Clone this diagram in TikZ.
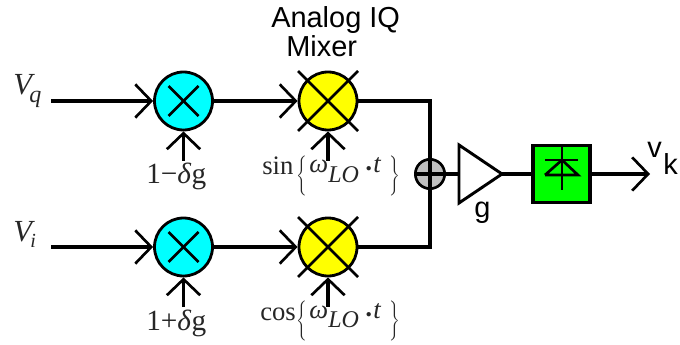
\documentclass[tikz,border=0pt]{standalone}
\usepackage{fontspec}
\setmainfont{Liberation Serif}
\newfontfamily\arial{Liberation Sans}
\usetikzlibrary{arrows.meta}
\definecolor{mixblue}{RGB}{0,255,255}
\definecolor{mixyellow}{RGB}{255,255,0}
\definecolor{detgreen}{RGB}{0,255,0}
\definecolor{sumgray}{RGB}{192,192,192}
\newcommand{\fs}[2]{\fontsize{#1}{#2}\selectfont}
\newcommand{\tallL}{$\left\{\vrule width0pt height 12pt depth 12pt\right.$}
\newcommand{\tallR}{$\left.\vrule width0pt height 12pt depth 12pt\right\}$}
\tikzset{
  x=0.75pt,y=-0.75pt,
  wire/.style={line width=2.4pt},
  barb/.style={wire,-{Straight Barb[length=12pt,width=25pt,line width=2pt]}},
  thinl/.style={line width=2pt},
  mixa/.style={circle,draw,line width=2.1pt,fill=mixblue,minimum size=43.5pt,inner sep=0pt},
  mixb/.style={circle,draw,line width=2.1pt,fill=mixyellow,minimum size=43.5pt,inner sep=0pt},
  sumn/.style={circle,draw,line width=2pt,fill=sumgray,minimum size=22pt,inner sep=0pt},
  lab/.style={inner sep=0pt,text=black!85,anchor=base west},
  sans/.style={inner sep=0pt,font=\arial\fs{21.7}{24},anchor=base west},
  serifl/.style={lab,font=\fs{20}{24}},
}
\begin{document}
\begin{tikzpicture}
\useasboundingbox (0,0) rectangle (680,345);
% nodes
\node[mixa] (a1) at (183.5,101) {};
\node[mixb] (b1) at (328,101) {};
\node[mixa] (a2) at (183.5,247) {};
\node[mixb] (b2) at (328,247) {};
\node[sumn] (s) at (430,174) {};
\coordinate (j1) at (430,101);
\coordinate (j2) at (430,247);
\coordinate (q) at (51,101);
\coordinate (i) at (51,247);
\coordinate (g1) at (183.5,161);
\coordinate (g2) at (183.5,307);
\coordinate (lo1) at (328,161);
\coordinate (lo2) at (328,307);
\coordinate (out) at (650,174);
\coordinate (ampin) at (459,174);
\coordinate (ampout) at (502,174);
\node[draw,line width=2.6pt,fill=detgreen,minimum size=43pt,inner sep=0pt] (d) at (561.5,174) {};
% crosses
\foreach \n in {a1,a2} {
  \draw[thinl] (\n.center) ++(-15,-15) -- ++(30,30);
  \draw[thinl] (\n.center) ++(-15,15) -- ++(30,-30);
}
\foreach \n in {b1,b2} {
  \draw[thinl] (\n.center) ++(-30,-30) -- ++(60,60);
  \draw[thinl] (\n.center) ++(-30,30) -- ++(60,-60);
}
% connectors
\draw[barb] (q) -- (a1.west);
\draw[barb] (i) -- (a2.west);
\draw[barb] (a1.east) -- (b1.west);
\draw[barb] (a2.east) -- (b2.west);
\draw[barb] (g1) -- (a1.south);
\draw[barb] (g2) -- (a2.south);
\draw[barb] (lo1) -- (b1.south);
\draw[barb] (lo2) -- (b2.south);
\draw[wire,line join=miter] (b1.east) -- (j1) -- (s.center);
\draw[wire,line join=miter] (b2.east) -- (j2) -- (s.center);
\draw[wire] (s.west) -- (ampin);
\draw[wire] (ampout) -- (d.west);
\draw[barb] (d.east) -- (out);
\draw[line width=2.2pt,line join=miter] (ampin |- 0,145) -- (ampout) -- (ampin |- 0,203) -- cycle;
% diode
\draw[line width=2pt] (562,147) -- (562,190);
\draw[line width=2pt] (545,160) -- (578,160);
\draw[line width=2pt] (545,175) -- (578,175) -- (562,160) -- (545,175);
% labels
\node[sans] at (271,28) {Analog IQ};
\node[sans] at (286,57) {Mixer};
\node[sans] at (474,217) {g};
\node[sans] at (647,158) {v};
\node[sans] at (663,175) {k};
\node[serifl,font=\fs{23}{26}\itshape] at (13,95) {V};
\node[serifl,font=\fs{18}{22}\itshape] at (29,103) {q};
\node[serifl,font=\fs{23}{26}\itshape] at (13,241) {V};
\node[serifl,font=\fs{15}{18}\itshape] at (30,247) {i};
\node[serifl,font=\fs{22}{24}] at (146,184) {1−\textit{δ}g};
\node[serifl,font=\fs{22}{24}] at (146,330) {1+\textit{δ}g};
\node[serifl] at (262,175) {sin};
\node[serifl] at (260,320) {cos};
\foreach \yy in {0,145} {
  \node[lab,anchor=center] at (303,176+\yy) {\tallL};
  \node[lab,anchor=center] at (394,176+\yy) {\tallR};
  \node[serifl,font=\fs{20}{24}\itshape] at (309,173+\yy) {ω};
  \node[serifl,font=\fs{18}{22}\itshape] at (328,182+\yy) {LO};
  \node[serifl,font=\fs{20}{24}\bfseries] at (364,178+\yy) {·};
  \node[serifl,font=\fs{20}{24}\itshape] at (373,173+\yy) {t};
}
\end{tikzpicture}
\end{document}
